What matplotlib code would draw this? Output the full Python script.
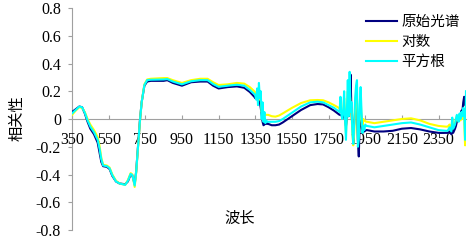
import matplotlib
matplotlib.use('Agg')
import matplotlib.pyplot as plt
import numpy as np

plt.rcParams['font.family'] = ['Liberation Serif', 'Noto Sans CJK SC']
CJK = ['Noto Sans CJK SC']

# wavelength (nm), one line per stretch of the spectrum
wavelength = [
    350, 370, 390, 405, 420, 435, 450, 470, 490, 500, 510, 520, 540, 555, 570, 590, 610, 640, 655, 670, 680, 692,
    700, 710, 720, 730, 745, 760, 780, 850, 870, 900, 950, 1000, 1050, 1090, 1120, 1150, 1200, 1250, 1290, 1320, 1345,
    1350, 1355, 1360, 1365, 1370, 1375, 1380, 1385, 1390, 1395, 1400, 1405, 1410, 1415, 1420,
    1440, 1460, 1480, 1500, 1550, 1600, 1650, 1690, 1720, 1750, 1780, 1800, 1810,
    1815, 1820, 1825, 1830, 1835, 1840, 1845, 1850, 1855, 1860, 1865, 1870, 1875, 1880, 1885,
    1890, 1895, 1900, 1905, 1910, 1915, 1920, 1925, 1930, 1935, 1940, 1945, 1950, 1955, 1960,
    2000, 2050, 2100, 2150, 2200, 2250, 2300, 2350, 2390,
    2400, 2410, 2420, 2425, 2430, 2440, 2445, 2450, 2455, 2460, 2465, 2470, 2475, 2480, 2485, 2490, 2495, 2500,
]

# correlation, raw spectrum
orig = [
    0.05, 0.07, 0.09, 0.085, 0.04, -0.02, -0.07, -0.11, -0.17, -0.24, -0.31, -0.34, -0.345, -0.36, -0.41, -0.45, -0.465, -0.47, -0.45, -0.40, -0.41, -0.47,
    -0.38, -0.20, -0.02, 0.12, 0.24, 0.27, 0.275, 0.275, 0.28, 0.26, 0.24, 0.265, 0.27, 0.27, 0.24, 0.22, 0.23, 0.235, 0.225, 0.195, 0.16,
    0.15, 0.16, 0.17, 0.13, 0.17, 0.12, 0.08, 0.03, -0.02, -0.045, -0.04, -0.03, -0.035, -0.03, -0.035,
    -0.045, -0.045, -0.04, -0.025, 0.02, 0.065, 0.10, 0.108, 0.105, 0.085, 0.06, 0.04, 0.03,
    0.03, 0.025, 0.02, 0.01, 0.05, -0.01, -0.05, 0.0, 0.10, 0.02, 0.10, 0.32, 0.05, -0.05, -0.10,
    -0.03, 0.05, 0.10, 0.05, -0.15, -0.27, 0.0, 0.10, -0.05, -0.10, -0.08, -0.09, -0.085, -0.08, -0.08,
    -0.09, -0.09, -0.085, -0.07, -0.065, -0.075, -0.09, -0.10, -0.10,
    -0.10, -0.09, -0.11, -0.06, -0.10, -0.07, -0.05, -0.02, 0.02, 0.0, 0.03, 0.02, 0.06, 0.05, 0.12, 0.16, 0.10, 0.14,
]

# correlation, log transform
log_t = [
    0.03, 0.06, 0.085, 0.08, 0.05, 0.0, -0.04, -0.08, -0.13, -0.19, -0.28, -0.33, -0.335, -0.35, -0.40, -0.445, -0.465, -0.475, -0.44, -0.39, -0.40, -0.49,
    -0.39, -0.21, -0.03, 0.12, 0.25, 0.285, 0.29, 0.295, 0.295, 0.28, 0.26, 0.28, 0.29, 0.29, 0.265, 0.245, 0.25, 0.26, 0.255, 0.23, 0.20,
    0.19, 0.17, 0.20, 0.14, 0.22, 0.14, 0.15, 0.05, 0.08, 0.03, 0.04, 0.03, 0.03, 0.03, 0.03,
    0.02, 0.017, 0.025, 0.04, 0.08, 0.115, 0.135, 0.137, 0.135, 0.12, 0.10, 0.085, 0.075,
    0.07, 0.06, 0.05, 0.05, 0.15, 0.02, -0.10, 0.08, 0.20, 0.05, 0.20, 0.10, 0.05, -0.10, -0.19,
    -0.10, 0.10, 0.18, 0.15, -0.15, -0.12, 0.05, 0.15, 0.0, -0.05, 0.0, -0.01, -0.015, -0.02, -0.02,
    -0.03, -0.02, -0.01, 0.0, 0.005, -0.01, -0.035, -0.05, -0.055,
    -0.055, -0.04, -0.08, 0.0, -0.06, -0.03, 0.0, 0.02, -0.01, 0.0, 0.03, -0.01, 0.04, 0.0, 0.05, 0.0, -0.19, 0.10,
]

# correlation, square-root transform
sqrt_t = [
    0.04, 0.065, 0.09, 0.085, 0.045, -0.01, -0.055, -0.095, -0.15, -0.21, -0.29, -0.335, -0.34, -0.355, -0.405, -0.45, -0.465, -0.475, -0.445, -0.395, -0.405, -0.48,
    -0.385, -0.20, -0.025, 0.12, 0.245, 0.28, 0.283, 0.285, 0.288, 0.27, 0.25, 0.272, 0.28, 0.28, 0.252, 0.232, 0.24, 0.247, 0.24, 0.21, 0.18,
    0.17, 0.14, 0.22, 0.10, 0.26, 0.15, 0.20, 0.0, 0.12, -0.02, 0.05, -0.03, -0.01, -0.02, -0.02,
    -0.02, -0.02, -0.015, 0.0, 0.045, 0.09, 0.12, 0.125, 0.12, 0.10, 0.08, 0.06, 0.05,
    0.16, 0.03, 0.0, 0.05, 0.20, 0.0, -0.15, 0.05, 0.28, 0.02, 0.34, 0.05, 0.12, -0.10, -0.18,
    -0.05, 0.15, 0.24, 0.28, -0.20, -0.15, 0.10, 0.23, 0.05, -0.10, -0.05, -0.08, -0.04, -0.05, -0.05,
    -0.06, -0.05, -0.04, -0.03, -0.025, -0.04, -0.06, -0.08, -0.085,
    -0.085, -0.06, -0.09, 0.01, -0.07, -0.04, 0.0, 0.03, 0.0, -0.02, 0.04, 0.0, 0.05, 0.02, 0.08, 0.05, -0.15, 0.20,
]

series_names = ['原始光谱', '对数', '平方根']
series_colors = ['#000080', '#FFFF00', '#00FFFF']
xticks = list(range(350, 2351, 200))
yticks = [0.8, 0.6, 0.4, 0.2, 0, -0.2, -0.4, -0.6, -0.8]

assert len(wavelength) == len(orig) == len(log_t) == len(sqrt_t)

W, H = 472, 241
fig = plt.figure(figsize=(W / 100, H / 100), dpi=100)
ax = fig.add_axes([72 / W, 1 - 230 / H, (466 - 72) / W, (230 - 8) / H])

for vals, name, col in zip([orig, log_t, sqrt_t], series_names, series_colors):
    ax.plot(wavelength, vals, color=col, lw=1.5, label=name)

ax.set_xlim(350, 2500)
ax.set_ylim(-0.8, 0.8)

for s in ['top', 'right']:
    ax.spines[s].set_visible(False)
ax.spines['left'].set_color('#a0a0a0')
ax.spines['bottom'].set_color('#a0a0a0')
ax.spines['bottom'].set_position(('data', 0))
ax.spines['left'].set_zorder(0)
ax.spines['bottom'].set_zorder(0)

ax.set_xticks(xticks)
ax.set_xticklabels([str(t) for t in xticks])
ax.set_yticks(yticks)
ax.set_yticklabels(['0' if t == 0 else f'{t:.1f}' for t in yticks])
ax.tick_params(axis='x', direction='in', length=3, color='#a0a0a0', labelsize=11.5, pad=9)
ax.tick_params(axis='y', direction='out', length=3, color='#a0a0a0', labelsize=11.5, pad=5)

fig.text(17 / W, 1 - 118 / H, '相关性', rotation=90, ha='center', va='center',
         fontsize=11, family=CJK)
fig.text(240 / W, 1 - 218 / H, '波长', ha='center', va='center', fontsize=11, family=CJK)

ax.legend(loc='upper left', bbox_to_anchor=(366 / W, 1 - 15 / H), bbox_transform=fig.transFigure,
          frameon=False, prop={'family': CJK, 'size': 10.5}, handlelength=2.1,
          handletextpad=0.35, labelspacing=0.42, borderaxespad=0, borderpad=0)

fig.savefig('out.png', dpi=100)
